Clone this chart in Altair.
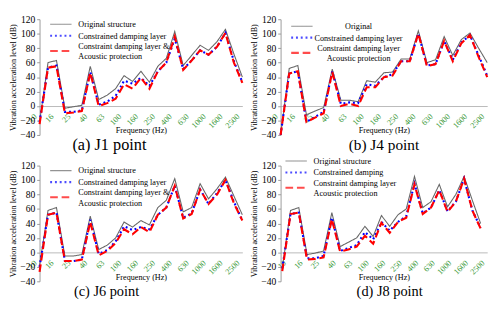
import json
import altair as alt
import pandas as pd

SERIF = "Liberation Serif"

BANDS = ["10", "12.5", "16", "20", "25", "31.5", "40", "50", "63", "80", "100", "125",
         "160", "200", "250", "315", "400", "500", "630", "800", "1000", "1250", "1600",
         "2000", "2500"]
TICK_LABELS = ["10", "16", "25", "40", "63", "100", "160", "250", "400", "630", "1000",
               "1600", "2500"]

A_ORIG = [-22, 60, 63, -3, -1, 1, 55, 9, 15, 24, 42, 34, 48, 33, 55, 66, 103, 56, 70, 84, 77, 89, 106, 72, 40]
A_DAMP = [-22, 53, 56, -8, -8, -6, 47, 2, 6, 14, 35, 31, 39, 28, 48, 60, 93, 51, 63, 77, 71, 82, 101, 62, 33]
A_PROT = [-25, 53, 55, -10, -9, -7, 46, 0, 4, 10, 30, 24, 39, 24, 48, 60, 96, 50, 63, 77, 71, 82, 101, 60, 32]

B_ORIG = [-40, 52, 56, -12, -7, -2, 51, 8, 8, 6, 35, 33, 46, 47, 65, 65, 104, 60, 64, 96, 70, 92, 101, 80, 60]
B_DAMP = [-40, 45, 48, -22, -15, -8, 48, 3, 5, 4, 30, 28, 40, 44, 62, 62, 100, 56, 58, 90, 64, 88, 98, 70, 42]
B_PROT = [-40, 45, 48, -22, -16, -10, 47, 0, 3, 0, 26, 26, 40, 42, 62, 62, 100, 55, 58, 90, 62, 87, 98, 68, 40]

C_ORIG = [-18, 58, 62, -5, -5, -3, 50, 4, 10, 20, 42, 35, 44, 38, 62, 72, 102, 56, 62, 95, 74, 88, 104, 78, 52]
C_DAMP = [-20, 52, 55, -12, -12, -10, 45, -2, 3, 15, 36, 31, 35, 32, 52, 62, 92, 48, 54, 87, 67, 82, 100, 70, 44]
C_PROT = [-27, 52, 55, -12, -12, -10, 42, -4, 2, 13, 32, 25, 35, 28, 52, 62, 92, 47, 53, 87, 67, 80, 100, 68, 44]

D_ORIG = [-22, 58, 62, -3, -1, 2, 55, 8, 14, 20, 36, 22, 51, 36, 52, 60, 105, 62, 70, 94, 63, 80, 105, 72, 40]
D_DAMP = [-22, 53, 55, -8, -8, -5, 48, 2, 6, 10, 28, 18, 42, 30, 42, 50, 95, 54, 62, 86, 57, 70, 102, 58, 34]
D_PROT = [-26, 53, 55, -10, -9, -7, 46, 1, 4, 8, 23, 12, 41, 27, 42, 48, 94, 53, 62, 86, 56, 70, 102, 58, 33]

NAMES_AC = ["Original structure", "Constrained damping layer",
            "Constraint damping layer &\nAcoustic protection"]
NAMES_B = ["Original", "Constrained damping layer",
           "Constraint damping layer\nAcoustic protection"]
NAMES_D = ["Original structure", "Constrained damping",
           "Constraint damping layer\nAcoustic protection"]

COLORS = ["#666666", "#0000ff", "#ff0000"]
DASHES = [[1, 0], [2, 3], [8, 4]]
WIDTHS = [1.1, 2.2, 2.2]
# legend sample strokes; the two-line entry's sample sits between its two lines
SYMBOLS = ["M-5,0H5", "M-5,0H5", "M-5,2.2H5"]

H = 121
LABEL_EXPR = json.dumps(TICK_LABELS) + "[round(datum.value / 2)]"


def panel(series, names, caption, lx, ly, xdom, w, cap_size=15, cap_dx=0, lab_off=-5,
          leg_align="left", leg_off=14):
    rows = []
    for name, vals in zip(names, series):
        for i, v in enumerate(vals):
            rows.append({"i": i, "band": BANDS[i], "v": v, "s": name})
    df = pd.DataFrame(rows)
    leg = alt.Legend(orient="none", legendX=lx, legendY=ly, title=None,
                     symbolSize=20, labelFont=SERIF, labelAlign=leg_align,
                     labelFontSize=8.5, labelColor="black", labelOffset=leg_off,
                     rowPadding=2, labelLimit=0,
                     labelExpr="split(datum.label, '\\n')")
    x = alt.X("i:Q", scale=alt.Scale(domain=xdom, nice=False, zero=False),
              axis=alt.Axis(values=list(range(0, 25, 2)), labelExpr=LABEL_EXPR,
                            labelAngle=315, labelAlign="right", labelBaseline="middle",
                            labelColor="#3a9a3a", labelFont=SERIF,
                            labelFontSize=8.5, labelPadding=9, labelOffset=lab_off,
                            labelOverlap=False, labelFlush=False,
                            ticks=False, domainColor="#b8b8b8", offset=-H / 4,
                            grid=False, title="Frequency (Hz)", titleFont=SERIF,
                            titleFontSize=8.5, titleFontWeight="normal",
                            titleColor="black", titleBaseline="middle",
                            titleX=w / 2, titleY=H * 33 / 160))
    y = alt.Y("v:Q", scale=alt.Scale(domain=[-40, 120], nice=False),
              axis=alt.Axis(values=list(range(-40, 121, 20)), grid=False,
                            labelFont=SERIF, labelFontSize=10, labelColor="black",
                            labelPadding=2, tickSize=3, tickColor="#999999",
                            domainColor="#999999",
                            title="Vibration acceleration level (dB)",
                            titleFont=SERIF, titleFontSize=8.5,
                            titleFontWeight="normal", titleColor="black",
                            titlePadding=3))
    color = alt.Color("s:N", scale=alt.Scale(domain=names, range=COLORS), legend=leg)
    dash = alt.StrokeDash("s:N", scale=alt.Scale(domain=names, range=DASHES), legend=leg)
    width = alt.StrokeWidth("s:N", scale=alt.Scale(type="ordinal", domain=names, range=WIDTHS), legend=leg)
    shape = alt.Shape("s:N", scale=alt.Scale(domain=names, range=SYMBOLS), legend=leg)

    base = alt.Chart(df)
    lines = base.mark_line().encode(x=x, y=y, color=color, strokeDash=dash,
                                    strokeWidth=width, order="i:Q")
    keys = base.mark_point(filled=False).encode(
        x=x, y=y, color=color, strokeDash=dash, strokeWidth=width, shape=shape
    ).transform_filter("false")
    return alt.layer(lines, keys).properties(
        width=w, height=H,
        title=alt.TitleParams(caption, orient="bottom", font=SERIF, fontSize=cap_size,
                              fontWeight="normal", color="black", anchor="middle",
                              frame="group", dx=cap_dx, offset=-2),
    )


RES = dict(color="independent", strokeDash="independent", strokeWidth="independent",
           shape="independent")

pa = panel([A_ORIG, A_DAMP, A_PROT], NAMES_AC, "(a) J1 point", 18, 1, [0, 24], 212,
           cap_size=17, cap_dx=-33)
pb = panel([B_ORIG, B_DAMP, B_PROT], NAMES_B, "(b) J4 point", 18, 3, [0, 24], 216,
           cap_size=16, leg_align="center", leg_off=55)
pc = panel([C_ORIG, C_DAMP, C_PROT], NAMES_AC, "(c) J6 point", 18, 1, [0, 24], 212,
           cap_size=15, cap_dx=-36)
pd_ = panel([D_ORIG, D_DAMP, D_PROT], NAMES_D, "(d) J8 point", 12, -9, [-0.2, 24.8], 216,
            cap_size=15, cap_dx=6, lab_off=2)

top = alt.hconcat(pa, pb, spacing=2).resolve_scale(**RES)
bottom = alt.hconcat(pc, pd_, spacing=2).resolve_scale(**RES)
chart = alt.vconcat(top, bottom, spacing=4).resolve_scale(**RES).properties(
    padding=0).configure_view(stroke=None)

chart.save("out.html", embed_options={"renderer": "svg", "actions": False})
